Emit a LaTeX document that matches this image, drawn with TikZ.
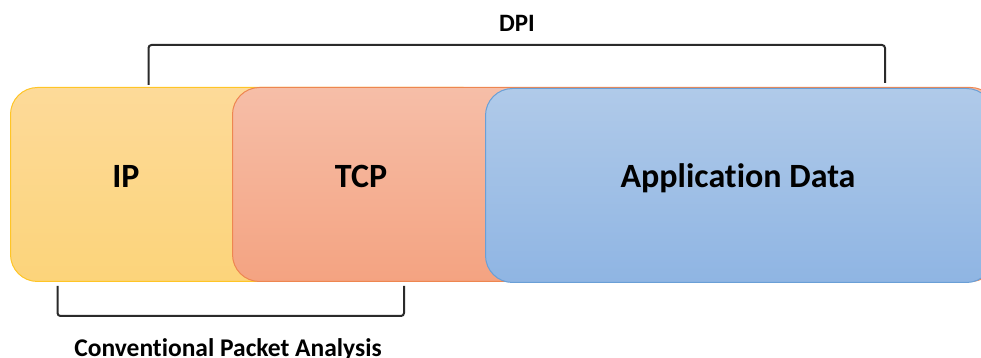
\documentclass[tikz,border=0pt]{standalone}
\usepackage{fontspec}
\setmainfont[Ligatures=NoCommon]{Carlito}
\begin{document}
\begin{tikzpicture}[x=1pt,y=1pt,
  layer/.style={draw, line width=1pt, rounded corners=27pt, inner sep=0pt,
    anchor=north west, minimum height=194pt},
  iplayer/.style={layer, draw=ipline, top color=iptop, bottom color=ipbot},
  tcplayer/.style={layer, draw=tcpline, top color=tcptop, bottom color=tcpbot},
  applayer/.style={layer, draw=appline, top color=apptop, bottom color=appbot},
  biglabel/.style={font=\bfseries\fontsize{34}{40}\selectfont, inner sep=0pt},
  smalllabel/.style={font=\bfseries\fontsize{25}{30}\selectfont, inner sep=0pt},
  bracket/.style={draw=bracketgray, line width=2pt, rounded corners=3pt}]

\definecolor{iptop}{HTML}{FDDA99}
\definecolor{ipbot}{HTML}{FCD47A}
\definecolor{ipline}{HTML}{FFC526}
\definecolor{tcptop}{HTML}{F6BEA8}
\definecolor{tcpbot}{HTML}{F4A381}
\definecolor{tcpline}{HTML}{EE8650}
\definecolor{apptop}{HTML}{B0CAE9}
\definecolor{appbot}{HTML}{8FB5E3}
\definecolor{appline}{HTML}{6A9FD6}
\definecolor{bracketgray}{HTML}{2A2A2A}

% page frame (origin at bottom left, rows counted from the top are 358 - row)
\useasboundingbox (0,0) rectangle (981,358);
\clip (0,0) rectangle (981,358);

% the three overlapping header layers
\node[iplayer,  minimum width=480pt] (ip)  at (10,271) {};
\node[tcplayer, minimum width=765pt] (tcp) at (232,271) {};
\node[applayer, minimum width=508pt] (app) at (485,270) {};

\node[biglabel] (iplabel)  at (126,182) {IP};
\node[biglabel] (tcplabel) at (361,182) {TCP};
\node[biglabel] (applabel) at (738,180) {Application Data};

% DPI bracket over the packet
\coordinate (dpiL) at (148.5,273);
\coordinate (dpiR) at (885,275);
\path[bracket] (dpiL) |- (516.5,313) -| (dpiR);
\node[smalllabel] (dpi) at (517,335) {DPI};

% conventional analysis bracket under IP and TCP
\coordinate (cpaL) at (57.5,72);
\coordinate (cpaR) at (404,72);
\path[bracket] (cpaL) |- (231,42) -| (cpaR);
\node[smalllabel, font=\bfseries\fontsize{25.5}{30}\selectfont] (cpa) at (228,8) {Conventional Packet Analysis};
\end{tikzpicture}
\end{document}
